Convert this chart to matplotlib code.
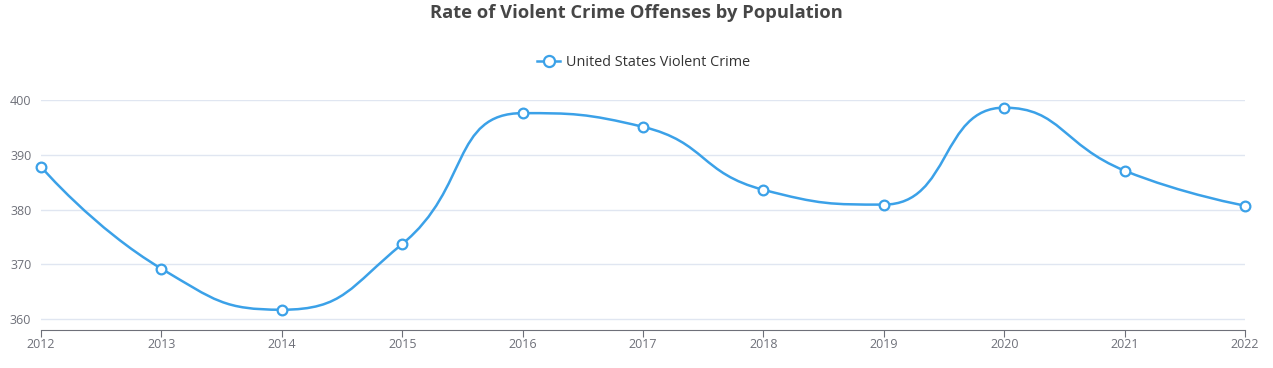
import matplotlib.pyplot as plt
import numpy as np
from matplotlib.path import Path
from matplotlib.patches import PathPatch
from matplotlib.lines import Line2D

years = [2012, 2013, 2014, 2015, 2016, 2017, 2018, 2019, 2020, 2021, 2022]
rates = [387.8, 369.2, 361.7, 373.7, 397.6, 395.1, 383.6, 380.9, 398.6, 387.1, 380.7]
yticks = [360, 370, 380, 390, 400]

blue = '#3ba1e8'
grey_txt = '#6e7079'


def smooth_path(xs, ys, sx, sy, smooth=0.5):
    # echarts style bezier smoothing, lengths taken in pixel space
    px = [x * sx for x in xs]
    py = [y * sy for y in ys]
    n = len(px)
    verts = [(px[0], py[0])]
    codes = [Path.MOVETO]
    cpx0, cpy0 = px[0], py[0]
    for i in range(1, n):
        x, y = px[i], py[i]
        prevx, prevy = px[i - 1], py[i - 1]
        if i == n - 1:
            cpx1, cpy1 = x, y
            ncx, ncy = x, y
        else:
            nx, ny = px[i + 1], py[i + 1]
            vx, vy = nx - prevx, ny - prevy
            lp = np.hypot(x - prevx, y - prevy)
            ln = np.hypot(nx - x, ny - y)
            r = ln / (ln + lp)
            ncx = x + vx * smooth * r
            ncy = y + vy * smooth * r
            ncx = max(min(ncx, max(nx, x)), min(nx, x))
            ncy = max(min(ncy, max(ny, y)), min(ny, y))
            vx, vy = ncx - x, ncy - y
            cpx1 = x - vx * lp / ln
            cpy1 = y - vy * lp / ln
            cpx1 = max(min(cpx1, max(prevx, x)), min(prevx, x))
            cpy1 = max(min(cpy1, max(prevy, y)), min(prevy, y))
            vx, vy = x - cpx1, y - cpy1
            ncx = x + vx * ln / lp
            ncy = y + vy * ln / lp
        verts += [(cpx0, cpy0), (cpx1, cpy1), (x, y)]
        codes += [Path.CURVE4] * 3
        cpx0, cpy0 = ncx, ncy
    verts = [(a / sx, b / sy) for a, b in verts]
    return Path(verts, codes)


fig = plt.figure(figsize=(12.73, 3.68), dpi=100)
plt.rcParams['font.family'] = ['Open Sans', 'DejaVu Sans']
ax = fig.add_axes([41 / 1273, 1 - 330 / 368, 1204 / 1273, 230 / 368])
ax.set_xlim(2012, 2022)
ax.set_ylim(358, 400)

sx = 1204 / 10
sy = 230 / 42
path = smooth_path(years, rates, sx, sy)
ax.add_patch(PathPatch(path, facecolor='none', edgecolor=blue, lw=1.8, zorder=3))
ax.plot(years, rates, 'o', color=blue, mfc='white', mec=blue, ms=7, mew=1.6,
        zorder=4, clip_on=False)

ax.set_yticks(yticks)
ax.set_xticks(years)
ax.grid(axis='y', color='#e0e6f1', lw=1)
ax.set_axisbelow(True)
for s in ['top', 'right', 'left']:
    ax.spines[s].set_visible(False)
ax.spines['bottom'].set_color(grey_txt)
ax.tick_params(axis='y', length=0, labelsize=9, labelcolor=grey_txt, pad=7)
ax.tick_params(axis='x', length=5, color=grey_txt, labelsize=9, labelcolor=grey_txt, pad=1)

fig.text(0.5, 1 - 13 / 368, 'Rate of Violent Crime Offenses by Population', ha='center', va='center',
         fontsize=13.2, fontweight='bold', color='#464646')
handle = Line2D([], [], color=blue, lw=1.8, marker='o', mfc='white', mec=blue, ms=8, mew=1.6)
fig.legend([handle], ['United States Violent Crime'], loc='center', bbox_to_anchor=(0.5055, 1 - 63 / 368),
           frameon=False, fontsize=10.4, labelcolor='#333333', handlelength=1.6, handletextpad=0.4)

fig.savefig('out.png', dpi=100)
